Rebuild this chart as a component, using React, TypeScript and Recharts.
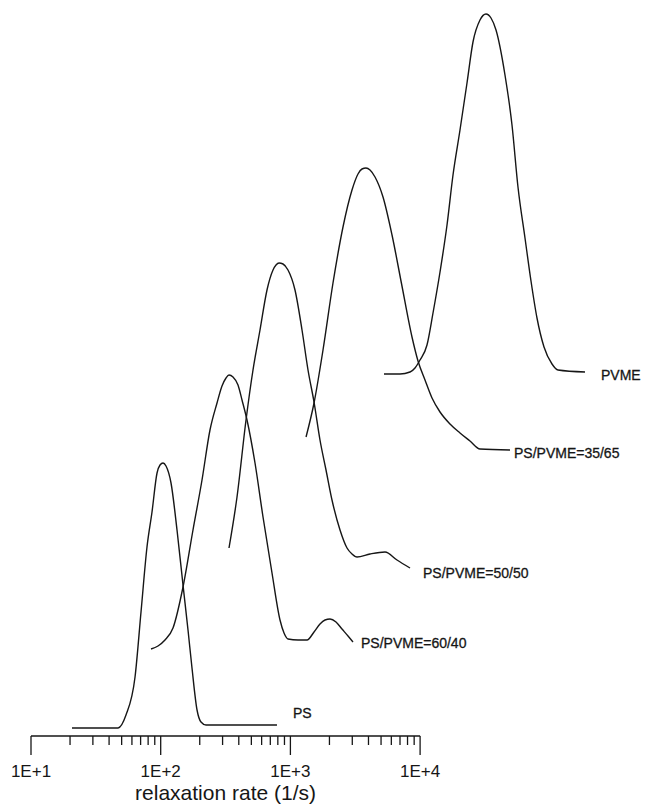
import React from "react";
import {
  LineChart,
  Line,
  XAxis,
  YAxis,
  ReferenceLine,
  ReferenceDot,
  LabelList,
} from "recharts";

// relaxation-rate distributions, each stacked on its own baseline
const psRate = [20.7, 46.9, 54.0, 63.4, 70.5, 78.4, 85.7, 93.7, 98.8, 104.2, 109.9, 120.1, 133.6, 148.6, 162.4, 174.3, 190.6, 204.5, 223.6, 788];
const psHeight = [8, 8, 21, 59, 124, 189, 224, 263, 271, 273, 270, 253, 206, 151, 106, 68, 26, 14, 11, 11];

const ps6040Rate = [84.2, 95.3, 107.9, 124.4, 148.6, 177.4, 208.2, 239.9, 271.8, 296.9, 318.8, 336.2, 360.9, 394.5, 423.6, 462.9, 533.5, 615.0, 721.4, 831.4, 892.9, 958.3, 1145, 1343, 1521, 1691, 1849, 2020, 2247, 2499, 2781, 3038];
const ps6040Height = [87, 90, 96, 108, 149, 206, 256, 306, 333, 350, 358, 361, 359, 351, 336, 316, 273, 219, 163, 116, 103, 97, 96, 96, 104, 112, 116, 117, 114, 107, 100, 94];

const ps5050Rate = [336.2, 387.6, 454.8, 514.8, 583.0, 660.1, 734.4, 774.5, 817.0, 877.0, 958.3, 1085, 1229, 1367, 1521, 1691, 1882, 2093, 2413, 2732, 2985, 3263, 4110, 5363, 6635, 8361];
const ps5050Height = [188, 239, 316, 366, 406, 446, 466, 471, 473, 472, 466, 446, 406, 366, 334, 296, 266, 236, 206, 188, 182, 179, 182, 184, 176, 168];

const ps3565Rate = [1320, 1521, 1784, 2130, 2544, 2985, 3320, 3565, 3827, 4110, 4492, 5176, 6074, 7174, 8660, 9634, 10910, 12355, 14241, 17003, 20306, 24249, 28960, 49330];
const ps3565Height = [299, 333, 386, 453, 509, 546, 562, 567, 568, 566, 559, 539, 501, 453, 399, 375, 356, 338, 324, 312, 303, 295, 287, 286];

const pvmeRate = [5268, 7000, 8361, 9135, 9982, 11302, 12574, 14241, 16126, 17933, 20306, 22994, 25572, 28960, 32206, 35217, 38479, 45131, 51109, 56840, 64380, 71617, 79662, 90234, 103992, 115680, 186820];
const pvmeHeight = [362, 362, 364, 368, 376, 391, 423, 464, 511, 561, 606, 653, 694, 716, 722, 718, 706, 661, 611, 549, 498, 455, 418, 389, 372, 366, 364];

const seriesNames = ["PS", "PS/PVME=60/40", "PS/PVME=50/50", "PS/PVME=35/65", "PVME"];

// tick labels for the decades, minor ticks at 2..9 within each decade
const decades = [10, 100, 1000, 10000];
const decadeLabels = ["1E+1", "1E+2", "1E+3", "1E+4"];
const minorSteps = [2, 3, 4, 5, 6, 7, 8, 9];

const axisTitle = "relaxation rate (1/s)";

const toPoints = (rate: number[], height: number[]) =>
  rate.map((r, i) => ({ rate: r, h: height[i] }));

// label offsets next to the right-hand end of each curve
const series = [
  { name: seriesNames[0], data: toPoints(psRate, psHeight), dx: 16, dy: -7 },
  { name: seriesNames[1], data: toPoints(ps6040Rate, ps6040Height), dx: 8, dy: 6 },
  { name: seriesNames[2], data: toPoints(ps5050Rate, ps5050Height), dx: 13, dy: 10 },
  { name: seriesNames[3], data: toPoints(ps3565Rate, ps3565Height), dx: 4, dy: 8 },
  { name: seriesNames[4], data: toPoints(pvmeRate, pvmeHeight), dx: 16, dy: 8 },
];

const tickValues: number[] = [];
decades.forEach((d, i) => {
  tickValues.push(d);
  if (i < decades.length - 1) minorSteps.forEach((m) => tickValues.push(d * m));
});

const FONT = "'Liberation Sans', Arial, Helvetica, sans-serif";
const INK = "#161616";

const AxisTick = (props: any) => {
  const { x, y, payload } = props;
  const idx = decades.indexOf(payload.value);
  const major = idx >= 0;
  return (
    <g>
      <line x1={x} y1={y} x2={x} y2={y + (major ? 19 : 9)} stroke={INK} strokeWidth={1.3} />
      {major && (
        <text x={x} y={y + 41} textAnchor="middle" fontSize={17} fontFamily={FONT} fill={INK}>
          {decadeLabels[idx]}
        </text>
      )}
    </g>
  );
};

const endLabel = (name: string, last: number, dx: number, dy: number) => (props: any) => {
  const { x, y, index } = props;
  if (index !== last) return null;
  return (
    <text x={x + dx} y={y + dy} fontSize={14} fontFamily={FONT} fill={INK} stroke={INK} strokeWidth={0.3}>
      {name}
    </text>
  );
};

const App = () => {
  return (
    <div style={{ position: "absolute", left: 0, top: 0, background: "#fff" }}>
      <LineChart width={645} height={806} margin={{ top: 0, right: 30.35, bottom: 0, left: 31 }}>
        <XAxis
          dataKey="rate"
          type="number"
          scale="log"
          domain={[10, 316228]}
          allowDataOverflow
          ticks={tickValues}
          interval={0}
          tick={(p: any) => <AxisTick {...p} />}
          tickLine={false}
          axisLine={false}
          tickSize={0}
          tickMargin={0}
          height={70}
        />
        <YAxis type="number" domain={[0, 736]} allowDataOverflow hide />
        <ReferenceLine
          segment={[
            { x: 10, y: 0 },
            { x: 10000, y: 0 },
          ]}
          stroke={INK}
          strokeWidth={1.3}
        />
        <ReferenceDot
          x={316.23}
          y={0}
          r={0}
          fill="none"
          stroke="none"
          label={{
            value: axisTitle,
            position: "bottom",
            offset: 49,
            fontSize: 21,
            fontFamily: FONT,
            fill: INK,
          }}
        />
        {series.map((s) => (
          <Line
            key={s.name}
            data={s.data}
            dataKey="h"
            type="monotone"
            stroke={INK}
            strokeWidth={1.4}
            dot={false}
            activeDot={false}
            isAnimationActive={false}
          >
            <LabelList dataKey="h" content={endLabel(s.name, s.data.length - 1, s.dx, s.dy)} />
          </Line>
        ))}
      </LineChart>
    </div>
  );
};

export default App;
